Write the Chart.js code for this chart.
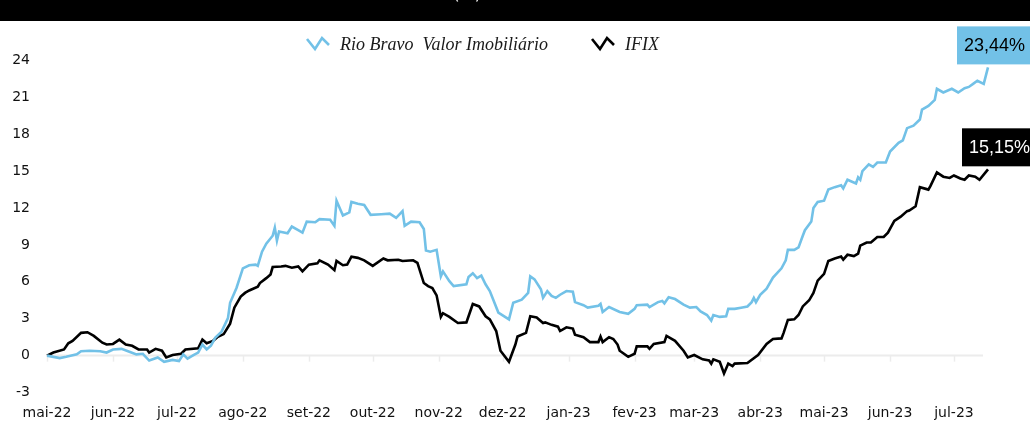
<!DOCTYPE html>
<html>
<head>
<meta charset="utf-8">
<script src="https://cdn.jsdelivr.net/npm/chart.js@4.4.0/dist/chart.umd.min.js"></script>
<style>
  html, body { margin: 0; padding: 0; background: #fff; }
  #wrap { position: relative; width: 1030px; height: 426px; }
  canvas { display: block; }
</style>
</head>
<body>
<div id="wrap"><canvas id="c" width="1030" height="426"></canvas></div>
<script>
// ---- DATA ----
const seriesNames = ['Rio Bravo  Valor Imobiliário', 'IFIX'];
const monthLabels = ['mai-22','jun-22','jul-22','ago-22','set-22','out-22','nov-22','dez-22','jan-23','fev-23','mar-23','abr-23','mai-23','jun-23','jul-23'];
const monthStarts = ['2022-05-01','2022-06-01','2022-07-01','2022-08-01','2022-09-01','2022-10-01','2022-11-01','2022-12-01','2023-01-01','2023-02-01','2023-03-01','2023-04-01','2023-05-01','2023-06-01','2023-07-01'];
const baseDate = '2022-05-01';
const lastDay = 442;
const yTicks = [-3, 0, 3, 6, 9, 12, 15, 18, 21, 24];
const endLabels = ['23,44%', '15,15%'];
const titleText = 'Rentabilidade acumulada (%)';

// days since 2022-05-01 and cumulative return (%)
const rbDays = [0,6,9,14,16,20,25,28,31,35,39,42,45,48,52,55,59,62,64,66,69,71,73,75,77,79,82,85,86,89,92,95,98,99,101,103,106,107,108,109,113,115,118,120,122,126,128,133,135,136,139,142,143,146,149,152,157,161,164,167,168,171,175,177,178,180,183,185,186,189,191,197,198,200,202,204,206,208,212,217,219,223,226,227,229,232,233,235,237,239,241,244,247,248,252,254,259,260,261,264,269,273,276,277,282,283,287,289,290,292,295,299,302,305,307,310,312,313,316,319,320,323,326,329,331,332,333,335,338,341,345,347,348,351,353,355,356,359,360,362,365,367,370,373,374,376,380,381,382,383,386,388,390,394,396,400,402,404,407,410,411,414,417,418,421,425,428,431,433,435,437,440,442];
const rbValues = [0,-0.2,-0.1,0.1,0.35,0.4,0.35,0.25,0.5,0.55,0.3,0.1,0.15,-0.4,-0.15,-0.5,-0.35,-0.45,0.1,-0.25,0.05,0.25,0.9,0.5,0.8,1.45,1.95,3.05,4.3,5.5,7.1,7.35,7.4,7.3,8.45,9.1,9.75,10.4,9.35,10.1,9.95,10.5,10.2,10.0,10.9,10.85,11.1,11.05,10.55,12.6,11.4,11.65,12.5,12.35,12.25,11.45,11.5,11.55,11.2,11.75,10.55,10.9,10.85,10.3,8.55,8.45,8.6,6.45,6.85,6.05,5.65,5.8,6.4,6.7,6.3,6.5,5.8,5.25,3.5,2.95,4.3,4.55,5.1,6.45,6.2,5.4,4.7,5.25,4.85,4.7,4.95,5.25,5.2,4.35,4.1,3.9,4.05,4.2,3.55,3.95,3.55,3.4,3.8,4.1,4.15,3.95,4.35,4.45,4.25,4.75,4.6,4.15,3.9,3.95,3.6,3.3,2.85,3.3,3.15,3.2,3.8,3.8,3.9,4.0,4.35,4.7,4.35,4.95,5.45,6.35,7.1,7.75,8.6,8.6,8.8,9.75,10.2,10.9,12.0,12.5,12.6,13.5,13.7,13.85,13.6,14.3,14.0,14.5,14.3,15.0,15.55,15.35,15.7,15.7,16.6,17.3,17.5,18.5,18.7,19.2,20.0,20.3,20.8,21.7,21.4,21.7,21.4,21.75,21.85,22.1,22.35,22.1,23.44];

const ifixDays = [0,3,8,10,12,16,19,22,26,28,31,34,37,40,43,47,48,51,54,56,59,63,65,71,73,75,78,80,83,86,88,91,93,95,99,100,103,105,106,110,112,115,118,120,123,127,128,132,135,136,139,141,143,146,149,153,158,160,165,167,172,174,177,179,181,183,185,186,189,193,197,200,203,206,208,211,213,217,220,221,225,227,230,233,234,237,240,241,244,247,248,252,255,259,260,261,264,266,268,269,271,273,276,277,282,283,285,290,291,295,299,301,304,308,311,312,313,316,318,320,322,323,329,334,338,341,345,346,348,351,353,355,358,360,362,365,367,370,373,374,376,379,381,382,385,387,390,393,395,398,401,404,405,408,410,414,415,418,421,424,426,429,431,433,436,438,442];
const ifixValues = [0,0.25,0.5,1.0,1.2,1.85,1.9,1.6,1.05,0.9,0.95,1.3,0.9,0.8,0.5,0.5,0.25,0.55,0.4,-0.15,0.05,0.15,0.5,0.6,1.3,1.0,1.2,1.5,1.75,2.6,3.9,4.8,5.1,5.3,5.6,5.9,6.3,6.6,7.2,7.25,7.3,7.15,7.25,6.85,7.4,7.5,7.75,7.4,6.95,7.7,7.35,7.4,8.05,7.95,7.75,7.3,7.9,7.75,7.8,7.7,7.75,7.55,5.9,5.65,5.5,4.9,3.15,3.45,3.15,2.65,2.7,4.2,4.0,3.2,2.95,2.0,0.4,-0.5,0.9,1.55,1.85,3.2,3.1,2.65,2.7,2.5,2.35,2.0,2.3,2.2,1.7,1.5,1.1,1.1,1.55,1.1,1.5,1.35,0.9,0.4,0.15,-0.1,0.15,0.75,0.75,0.55,0.95,1.1,1.6,1.2,0.4,-0.15,0.05,-0.3,-0.4,-0.65,-0.3,-0.5,-1.45,-0.65,-0.85,-0.65,-0.6,0.05,0.95,1.35,1.4,1.85,2.9,2.95,3.3,4.0,4.5,5.1,6.1,6.65,7.7,7.9,8.05,7.8,8.2,8.1,8.3,8.95,9.2,9.2,9.65,9.65,10.0,10.95,11.3,11.75,11.8,12.15,13.7,13.5,13.8,14.9,14.55,14.45,14.65,14.4,14.3,14.65,14.55,14.3,15.15];

// ---- STYLE ----
const BLUE = '#72c1e7';
const BLACK = '#000000';
const tickFont = { family: 'DejaVu Sans', size: 14 };

function dayIndex(iso) {
  const [y, m, d] = iso.split('-').map(Number);
  const [by, bm, bd] = baseDate.split('-').map(Number);
  return Math.round((Date.UTC(y, m - 1, d) - Date.UTC(by, bm - 1, bd)) / 86400000);
}
const monthTickDays = monthStarts.map(dayIndex);

const toPoints = (xs, ys) => xs.map((x, i) => ({ x: x, y: ys[i] }));

function drawIcon(ctx, x, y, color) {
  ctx.save();
  ctx.strokeStyle = color;
  ctx.lineWidth = 2.6;
  ctx.lineJoin = 'miter';
  ctx.beginPath();
  ctx.moveTo(x, y - 5);
  ctx.lineTo(x + 8, y + 5);
  ctx.lineTo(x + 15, y - 6);
  ctx.lineTo(x + 22, y + 1);
  ctx.stroke();
  ctx.restore();
}

const decorPlugin = {
  id: 'decor',
  beforeDraw(chart) {
    const ctx = chart.ctx;
    const xs = chart.scales.x, ys = chart.scales.y;
    ctx.save();
    // top bar (title mostly cropped above the frame)
    ctx.fillStyle = '#000';
    ctx.fillRect(0, 0, chart.width, 21);
    ctx.fillStyle = '#fff';
    ctx.font = '16px "DejaVu Sans"';
    ctx.textAlign = 'right';
    ctx.textBaseline = 'alphabetic';
    ctx.fillText(titleText, 481, -1);
    // zero axis line with month tick marks
    const y0 = ys.getPixelForValue(0);
    ctx.strokeStyle = '#ececec';
    ctx.lineWidth = 2;
    ctx.beginPath();
    ctx.moveTo(chart.chartArea.left, y0);
    ctx.lineTo(xs.getPixelForValue(xs.max) - 5, y0);
    ctx.stroke();
    ctx.lineWidth = 1.5;
    monthTickDays.forEach(d => {
      const px = Math.round(xs.getPixelForValue(d)) + 0.5;
      ctx.beginPath();
      ctx.moveTo(px, y0);
      ctx.lineTo(px, y0 + 6);
      ctx.stroke();
    });
    // legend
    const ly = 44;
    ctx.textAlign = 'left';
    ctx.textBaseline = 'middle';
    ctx.fillStyle = '#1a1a1a';
    ctx.font = 'italic 18px "Liberation Serif"';
    drawIcon(ctx, 307, ly, BLUE);
    ctx.fillText(seriesNames[0], 340, ly + 1);
    drawIcon(ctx, 592, ly, BLACK);
    ctx.fillText(seriesNames[1], 625, ly + 1);
    ctx.restore();
  },
  afterDatasetsDraw(chart) {
    const ctx = chart.ctx;
    ctx.save();
    ctx.font = '18px "Liberation Sans"';
    ctx.textBaseline = 'middle';
    ctx.textAlign = 'left';
    const styles = [
      { bg: BLUE, fg: '#000', dx: -31 },
      { bg: BLACK, fg: '#fff', dx: -26 }
    ];
    chart.data.datasets.forEach((ds, i) => {
      const meta = chart.getDatasetMeta(i);
      const last = meta.data[meta.data.length - 1];
      const st = styles[i];
      const bx = last.x + st.dx;
      const bh = 38;
      const by = last.y - 3 - bh;
      ctx.fillStyle = st.bg;
      ctx.fillRect(bx, by, chart.width - bx, bh);
      ctx.fillStyle = st.fg;
      ctx.fillText(endLabels[i], bx + 7, by + bh / 2 + 1);
    });
    ctx.restore();
  }
};

new Chart(document.getElementById('c'), {
  type: 'line',
  data: {
    datasets: [
      { label: seriesNames[0], data: toPoints(rbDays, rbValues), borderColor: BLUE, borderWidth: 2.6, pointRadius: 0, tension: 0, clip: false },
      { label: seriesNames[1], data: toPoints(ifixDays, ifixValues), borderColor: BLACK, borderWidth: 2.6, pointRadius: 0, tension: 0, clip: false }
    ]
  },
  options: {
    responsive: false,
    animation: false,
    devicePixelRatio: 1,
    layout: { padding: { left: 0, right: 42, top: 60.5, bottom: 0 } },
    plugins: { legend: { display: false }, tooltip: { enabled: false } },
    scales: {
      x: {
        type: 'linear',
        min: 0,
        max: lastDay,
        grid: { display: false, drawTicks: false },
        border: { display: false },
        afterBuildTicks: s => { s.ticks = monthTickDays.map(v => ({ value: v })); },
        afterFit: s => { s.height = 33.5; },
        ticks: {
          autoSkip: false,
          maxRotation: 0,
          padding: 12,
          color: '#111',
          font: tickFont,
          callback: (v) => { const i = monthTickDays.indexOf(v); return i >= 0 ? monthLabels[i] : ''; }
        }
      },
      y: {
        min: yTicks[0],
        max: yTicks[yTicks.length - 1],
        grid: { display: false, drawTicks: false },
        border: { display: false },
        afterBuildTicks: s => { s.ticks = yTicks.map(v => ({ value: v })); },
        afterFit: s => { s.width = 47; },
        ticks: { padding: 17, color: '#111', font: tickFont }
      }
    }
  },
  plugins: [decorPlugin]
});
</script>
</body>
</html>
